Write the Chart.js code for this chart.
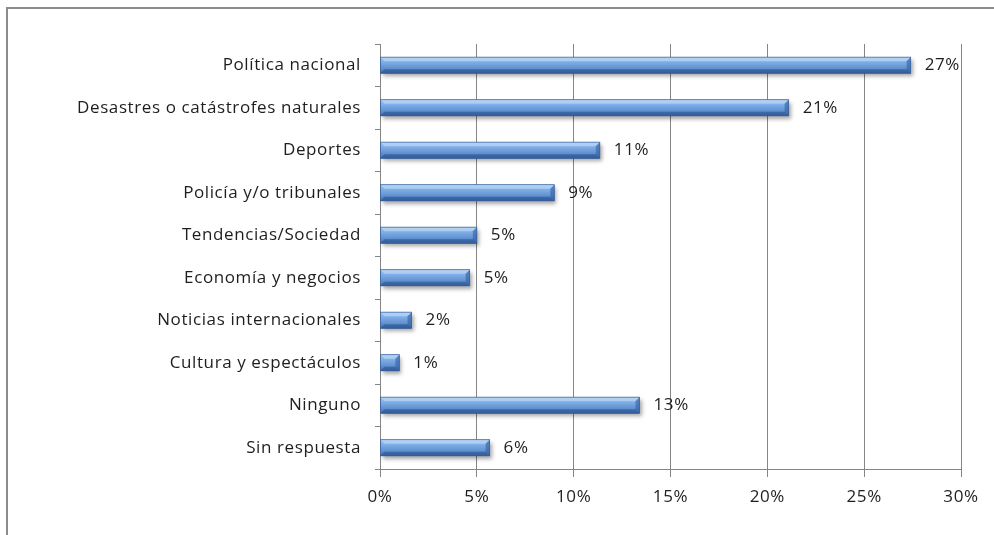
<!DOCTYPE html>
<html>
<head>
<meta charset="utf-8">
<script src="https://cdn.jsdelivr.net/npm/chart.js@4.4.1/dist/chart.umd.min.js"></script>
<style>
  html, body { margin: 0; padding: 0; background: #fff; }
  #wrap { width: 994px; height: 535px; position: relative; }
</style>
</head>
<body>
<div id="wrap"><canvas id="c" width="994" height="535"></canvas></div>
<script>
const categories = [
  'Política nacional',
  'Desastres o catástrofes naturales',
  'Deportes',
  'Policía y/o tribunales',
  'Tendencias/Sociedad',
  'Economía y negocios',
  'Noticias internacionales',
  'Cultura y espectáculos',
  'Ninguno',
  'Sin respuesta'
];
const values = [27.4, 21.1, 11.35, 9.0, 5.0, 4.63, 1.63, 1.0, 13.4, 5.66];
const valueLabels = ['27%', '21%', '11%', '9%', '5%', '5%', '2%', '1%', '13%', '6%'];
const xTickMax = 30;
const xTickStep = 5;

const FONT = "'Open Sans', sans-serif";
const FSIZE = 17;
const TEXT = '#1e1e1e';
const GRID = '#868686';

const framePlugin = {
  id: 'frame',
  beforeDraw(chart) {
    const ctx = chart.ctx;
    ctx.letterSpacing = '0.6px';
    ctx.save();
    ctx.strokeStyle = '#8c8c8c';
    ctx.lineWidth = 2;
    ctx.beginPath();
    ctx.moveTo(7, 540);
    ctx.lineTo(7, 8);
    ctx.lineTo(1000, 8);
    ctx.stroke();
    ctx.restore();
  }
};

const barStylePlugin = {
  id: 'barStyle',
  beforeDatasetsDraw(chart) {
    const ctx = chart.ctx;
    ctx.save();
    ctx.shadowColor = 'rgba(0,0,0,0.35)';
    ctx.shadowBlur = 4;
    ctx.shadowOffsetX = 2;
    ctx.shadowOffsetY = 3;
  },
  afterDatasetsDraw(chart) {
    const ctx = chart.ctx;
    ctx.restore();
    const meta = chart.getDatasetMeta(0);
    meta.data.forEach((el, i) => {
      const p = el.getProps(['x', 'y', 'base', 'height'], true);
      const x0 = Math.min(p.base, p.x), x1 = Math.max(p.base, p.x);
      const y0 = p.y - p.height / 2, y1 = p.y + p.height / 2;
      const h = y1 - y0;
      const b = Math.min(4, (x1 - x0) / 3);
      ctx.save();
      const g = ctx.createLinearGradient(0, y0, 0, y1);
      g.addColorStop(0, '#9cc2ef');
      g.addColorStop(0.3, '#80aee6');
      g.addColorStop(0.7, '#5f90d0');
      g.addColorStop(1, '#3f6da9');
      ctx.fillStyle = g;
      ctx.fillRect(x0, y0, x1 - x0, h);
      ctx.fillStyle = 'rgba(200,225,250,0.55)';
      ctx.beginPath();
      ctx.moveTo(x0, y0);
      ctx.lineTo(x1, y0);
      ctx.lineTo(x1 - b, y0 + b);
      ctx.lineTo(x0 + b, y0 + b);
      ctx.closePath();
      ctx.fill();
      ctx.fillStyle = 'rgba(40,80,140,0.55)';
      ctx.beginPath();
      ctx.moveTo(x0, y1);
      ctx.lineTo(x1, y1);
      ctx.lineTo(x1 - b, y1 - b);
      ctx.lineTo(x0 + b, y1 - b);
      ctx.closePath();
      ctx.fill();
      ctx.fillStyle = 'rgba(50,95,160,0.6)';
      ctx.beginPath();
      ctx.moveTo(x1, y0);
      ctx.lineTo(x1, y1);
      ctx.lineTo(x1 - b, y1 - b);
      ctx.lineTo(x1 - b, y0 + b);
      ctx.closePath();
      ctx.fill();
      ctx.strokeStyle = 'rgba(45,85,145,0.8)';
      ctx.lineWidth = 0.8;
      ctx.strokeRect(x0, y0, x1 - x0, h);
      ctx.restore();

      ctx.save();
      ctx.font = FSIZE + 'px ' + FONT;
      ctx.fillStyle = TEXT;
      ctx.textAlign = 'left';
      ctx.textBaseline = 'middle';
      ctx.fillText(valueLabels[i], x1 + 14, p.y);
      ctx.restore();
    });
  }
};

new Chart(document.getElementById('c'), {
  type: 'bar',
  data: {
    labels: categories,
    datasets: [{
      data: values,
      backgroundColor: '#6596d6',
      borderWidth: 0,
      barPercentage: 0.95,
      categoryPercentage: 0.4
    }]
  },
  options: {
    indexAxis: 'y',
    responsive: false,
    animation: false,
    events: [],
    layout: { padding: { top: 44, right: 33, left: 0, bottom: 0 } },
    plugins: { legend: { display: false }, tooltip: { enabled: false } },
    scales: {
      x: {
        min: 0,
        max: xTickMax,
        ticks: {
          stepSize: xTickStep,
          callback: v => v + '%',
          color: TEXT,
          font: { family: FONT, size: FSIZE },
          padding: 10,
          maxRotation: 0
        },
        grid: { color: GRID, lineWidth: 1, tickLength: 8, drawTicks: true },
        border: { color: GRID, width: 1 },
        afterFit(s) { s.height = 66; }
      },
      y: {
        ticks: {
          color: TEXT,
          font: { family: FONT, size: FSIZE },
          padding: 14
        },
        grid: { drawOnChartArea: false, color: GRID, tickLength: 5, offset: true },
        border: { color: GRID, width: 1 },
        afterFit(s) { s.width = 380; }
      }
    }
  },
  plugins: [framePlugin, barStylePlugin]
});
</script>
</body>
</html>
